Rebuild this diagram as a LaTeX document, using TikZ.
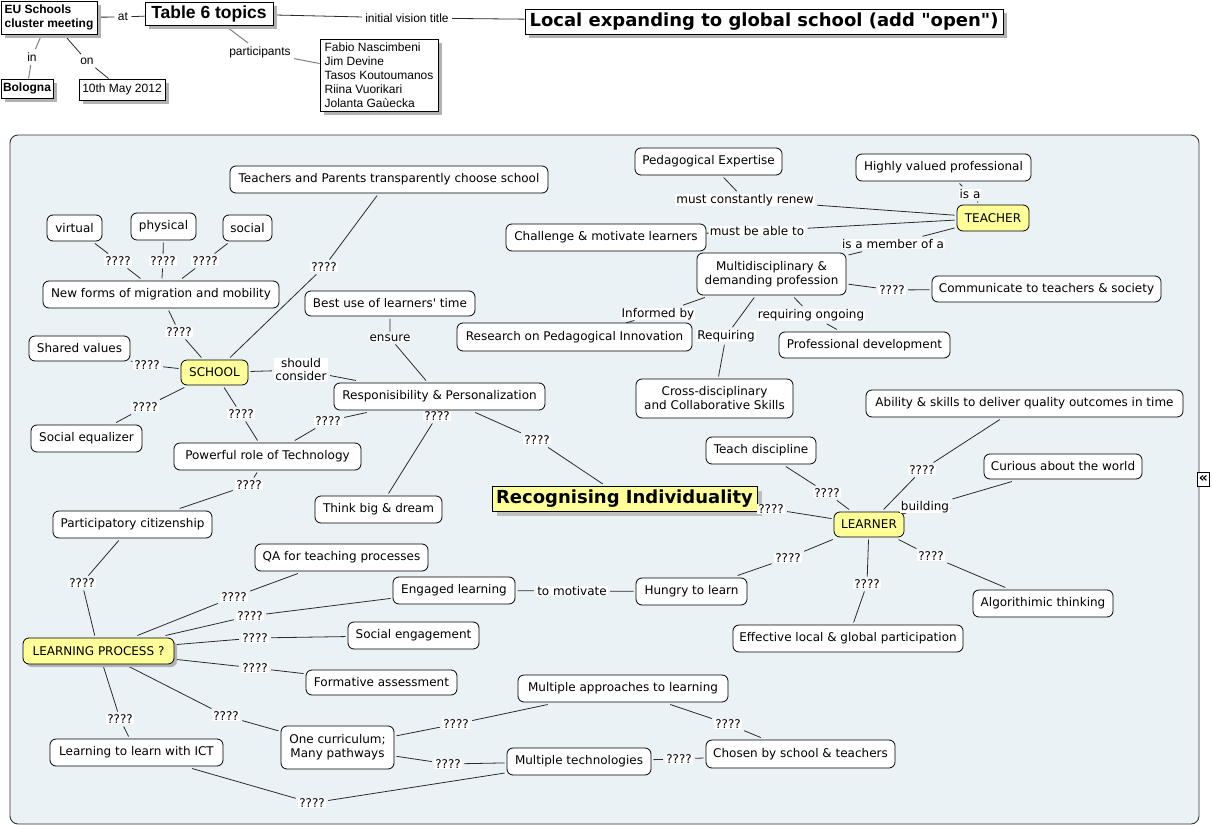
\documentclass[tikz,border=0pt]{standalone}
\usepackage{fontspec}
\setmainfont{DejaVu Sans}
\newfontfamily\arialf{Liberation Sans}
\usetikzlibrary{shadows}
\definecolor{panelbg}{HTML}{EBF2F5}
\definecolor{ylw}{HTML}{FFFF99}
\definecolor{lnc}{HTML}{2A2A2A}
\pgfdeclarelayer{panel}\pgfdeclarelayer{edges}
\pgfsetlayers{panel,edges,main}
\tikzset{
 cbox/.style={draw=black, line width=0.8pt, fill=white, rounded corners=6pt, inner sep=2pt, outer sep=2.5pt, font=\fontsize{12}{14}\selectfont, align=center},
 ybox/.style={cbox, fill=ylw},
 lab/.style={fill=white, inner xsep=1pt, inner ysep=0.5pt, outer sep=2.5pt, font=\fontsize{12}{13}\selectfont, align=center},
 conn/.style={draw=lnc, line width=0.8pt},
 gconn/.style={draw=black!50, line width=1pt},
 hbox/.style={draw=black, line width=0.9pt, fill=white, inner sep=3pt, general shadow={fill=black!30, shadow xshift=4pt, shadow yshift=-4pt}},
 hlab/.style={fill=white, inner sep=1pt, outer sep=2.5pt, font=\arialf\fontsize{12}{14}\selectfont},
}
\begin{document}
\begin{tikzpicture}[x=1pt,y=-1pt]
\useasboundingbox (0,0) rectangle (1212,826);
\begin{pgfonlayer}{panel}
\draw[fill=panelbg, draw=black!80, line width=0.9pt, rounded corners=8pt] (10,135) rectangle (1199,824);
\end{pgfonlayer}

% ---------- header ----------
\node[hbox, align=left, minimum width=96, minimum height=33, font=\arialf\bfseries\fontsize{12}{14}\selectfont] (eu) at (49,17.5) {EU Schools\\cluster meeting};
\node[hbox, minimum width=128, minimum height=23, inner sep=2pt, font=\arialf\bfseries\fontsize{17.5}{19}\selectfont] (tab) at (209,13.5) {Table 6 topics};
\node[hbox, minimum width=478, minimum height=25, inner sep=2pt, font=\bfseries\fontsize{18}{20}\selectfont] (loc) at (764,21.5) {Local expanding to global school (add \textquotedbl open\textquotedbl)};
\node[hbox, align=left, minimum width=118, minimum height=72, inner sep=2pt, font=\arialf\fontsize{12}{14}\selectfont] (names) at (379,75) {Fabio Nascimbeni\\Jim Devine\\Tasos Koutoumanos\\Riina Vuorikari\\Jolanta Gaùecka};
\node[hbox, minimum width=52, minimum height=19, inner sep=1pt, font=\arialf\bfseries\fontsize{12}{14}\selectfont] (bol) at (27,88.5) {Bologna};
\node[hbox, minimum width=86, minimum height=21, inner sep=1pt, font=\arialf\fontsize{12}{14}\selectfont] (may) at (122,89.5) {10th May 2012};

\node[hlab] (lat) at (123,17) {at};
\node[hlab] (livt) at (407,18) {initial vision title};
\node[hlab] (lpart) at (260,52) {participants};
\node[hlab] (lin) at (32,57) {in};
\node[hlab] (lon) at (87,61) {on};

% ---------- panel nodes ----------
\node[cbox, minimum width=318, minimum height=27] (tp) at (389,179.5) {Teachers and Parents transparently choose school};
\node[cbox, minimum width=55, minimum height=26] (virt) at (74.5,228) {virtual};
\node[cbox, minimum width=65, minimum height=27] (phys) at (163.5,226.5) {physical};
\node[cbox, minimum width=49, minimum height=26] (soc) at (247.5,228) {social};
\node[cbox, minimum width=236, minimum height=27] (nf) at (161,294.5) {New forms of migration and mobility};
\node[cbox, minimum width=170, minimum height=25] (bu) at (390,303.5) {Best use of learners\textquotesingle\ time};
\node[cbox, minimum width=101, minimum height=25] (sv) at (79.5,348.5) {Shared values};
\node[ybox, minimum width=67, minimum height=25] (school) at (214.5,372.5) {SCHOOL};
\node[cbox, minimum width=211, minimum height=27] (resp) at (439.5,396.5) {Responisibility \& Personalization};
\node[cbox, minimum width=235, minimum height=28] (rpi) at (574.5,337) {Research on Pedagogical Innovation};
\node[cbox, minimum width=111, minimum height=27] (se) at (86.5,438.5) {Social equalizer};
\node[cbox, minimum width=187, minimum height=27] (prt) at (267.5,456.5) {Powerful role of Technology};
\node[cbox, minimum width=127, minimum height=27] (tbd) at (378.5,509.5) {Think big \& dream};
\node[cbox, minimum width=159, minimum height=27] (pc) at (132.5,524.5) {Participatory citizenship};
\node[draw=black, fill=ylw, line width=0.9pt, minimum width=265, minimum height=25, inner sep=3pt, general shadow={fill=black!25, shadow xshift=5pt, shadow yshift=-5pt}, outer sep=2pt, font=\bfseries\fontsize{18}{20}\selectfont] (rec) at (624.5,498.5) {Recognising Individuality};
\node[cbox, minimum width=147, minimum height=27] (pe) at (708.5,161.5) {Pedagogical Expertise};
\node[cbox, minimum width=175, minimum height=27] (hvp) at (943.5,167.5) {Highly valued professional};
\node[ybox, minimum width=72, minimum height=26] (teacher) at (993,218) {TEACHER};
\node[cbox, minimum width=200, minimum height=27] (cml) at (606,237.5) {Challenge \& motivate learners};
\node[cbox, minimum width=149, minimum height=42] (mdp) at (771.5,274) {Multidisciplinary \&\\demanding profession};
\node[cbox, minimum width=229, minimum height=26] (cts) at (1046.5,289) {Communicate to teachers \& society};
\node[cbox, minimum width=171, minimum height=26] (pd) at (864.5,345) {Professional development};
\node[cbox, minimum width=157, minimum height=39] (cds) at (714.5,398.5) {Cross-disciplinary\\and Collaborative Skills};
\node[cbox, minimum width=317, minimum height=27] (ask) at (1024.5,403.5) {Ability \& skills to deliver quality outcomes in time};
\node[cbox, minimum width=110, minimum height=27] (td) at (761,450.5) {Teach discipline};
\node[cbox, minimum width=158, minimum height=25] (caw) at (1063,466.5) {Curious about the world};
\node[ybox, minimum width=70, minimum height=25] (learner) at (869,524.5) {LEARNER};
\node[cbox, minimum width=111, minimum height=27] (htl) at (691.5,591.5) {Hungry to learn};
\node[cbox, minimum width=122, minimum height=27] (el) at (454,590.5) {Engaged learning};
\node[cbox, minimum width=140, minimum height=27] (alg) at (1043,603.5) {Algorithimic thinking};
\node[cbox, minimum width=230, minimum height=27] (elg) at (848,638.5) {Effective local \& global participation};
\node[cbox, minimum width=173, minimum height=27] (qa) at (341.5,557.5) {QA for teaching processes};
\node[cbox, minimum width=131, minimum height=27] (sen) at (413.5,635.5) {Social engagement};
\node[ybox, minimum width=151, minimum height=26, general shadow={fill=black!30, shadow xshift=3pt, shadow yshift=-3pt, rounded corners=6pt}] (lp) at (98.5,651) {LEARNING PROCESS ?};
\node[cbox, minimum width=151, minimum height=25] (fa) at (381.5,682.5) {Formative assessment};
\node[cbox, minimum width=210, minimum height=27] (mal) at (623,688.5) {Multiple approaches to learning};
\node[cbox, minimum width=173, minimum height=27] (llict) at (136.5,752.5) {Learning to learn with ICT};
\node[cbox, minimum width=113, minimum height=43] (oc) at (337.5,747.5) {One curriculum;\\Many pathways};
\node[cbox, minimum width=144, minimum height=27] (mt) at (579,761.5) {Multiple technologies};
\node[cbox, minimum width=189, minimum height=28] (cst) at (800.5,754) {Chosen by school \& teachers};
\node[draw=black, fill=white, line width=0.8pt, inner sep=0pt, minimum width=12, minimum height=14, font=\bfseries\fontsize{14}{14}\selectfont] (icon) at (1203.5,479) {«};

% ---------- labels ----------
\node[lab] (q1) at (118,261) {????};
\node[lab] (q2) at (163,261) {????};
\node[lab] (q3) at (205,261) {????};
\node[lab] (q4) at (179,332) {????};
\node[lab] (q5) at (324,267) {????};
\node[lab] (q6) at (147,365) {????};
\node[lab] (lsc) at (301,370) {should\\consider};
\node[lab] (lens) at (390,338) {ensure};
\node[lab] (q7) at (145,407) {????};
\node[lab] (q8) at (241,414) {????};
\node[lab] (q9) at (328,421) {????};
\node[lab] (q10) at (437,416) {????};
\node[lab] (q11) at (537,440) {????};
\node[lab] (q12) at (249,485) {????};
\node[lab] (q13) at (82,583) {????};
\node[lab] (lmcr) at (745,200) {must constantly renew};
\node[lab] (lisa) at (970,194) {is a};
\node[lab] (lmba) at (757,231) {must be able to};
\node[lab] (limo) at (893,244) {is a member of a};
\node[lab] (q14) at (892,290) {????};
\node[lab] (linf) at (658,314) {Informed by};
\node[lab] (lreq) at (726,336) {Requiring};
\node[lab] (lro) at (811,315) {requiring ongoing};
\node[lab] (q15) at (922,470) {????};
\node[lab] (lbld) at (925,507) {building};
\node[lab] (q16) at (827,493) {????};
\node[lab] (q17) at (771,509) {????};
\node[lab] (q18) at (788,558) {????};
\node[lab] (q19) at (867,584) {????};
\node[lab] (q20) at (931,556) {????};
\node[lab] (ltm) at (572,591) {to motivate};
\node[lab] (q21) at (234,597) {????};
\node[lab] (q22) at (250,616) {????};
\node[lab] (q23) at (255,638) {????};
\node[lab] (q24) at (255,668) {????};
\node[lab] (q25) at (120,719) {????};
\node[lab] (q26) at (226,716) {????};
\node[lab] (q27) at (456,724) {????};
\node[lab] (q28) at (448,764) {????};
\node[lab] (q29) at (312,803) {????};
\node[lab] (q30) at (728,724) {????};
\node[lab] (q31) at (679,759) {????};

% ---------- connectors ----------
\begin{pgfonlayer}{edges}
\draw[conn] (eu) -- (lat) -- (tab);
\draw[conn] (tab) -- (livt) -- (loc);
\draw[gconn] (tab) -- (lpart) -- (names);
\draw[gconn] (eu) -- (lin) -- (bol);
\draw[conn] (eu) -- (lon) -- (may);

\draw[conn] (virt) -- (q1) -- (nf);
\draw[conn] (phys) -- (q2) -- (nf);
\draw[conn] (soc) -- (q3) -- (nf);
\draw[conn] (nf) -- (q4) -- (school);
\draw[conn] (tp) -- (q5) -- (school);
\draw[conn] (sv) -- (q6) -- (school);
\draw[conn] (school) -- (lsc) -- (resp);
\draw[conn] (bu) -- (lens) -- (resp);
\draw[conn] (school) -- (q7) -- (se);
\draw[conn] (school) -- (q8) -- (prt);
\draw[conn] (resp) -- (q9) -- (prt);
\draw[conn] (resp) -- (q10) -- (tbd);
\draw[conn] (resp) -- (q11) -- (rec);
\draw[conn] (prt) -- (q12) -- (pc);
\draw[conn] (pc) -- (q13) -- (lp);
\draw[conn] (pe) -- (lmcr) -- (teacher);
\draw[conn] (hvp) -- (lisa) -- (teacher);
\draw[conn] (cml) -- (lmba) -- (teacher);
\draw[conn] (teacher) -- (limo) -- (mdp);
\draw[conn] (mdp) -- (q14) -- (cts);
\draw[conn] (mdp) -- (linf) -- (rpi);
\draw[conn] (mdp) -- (lreq) -- (cds);
\draw[conn] (mdp) -- (lro) -- (pd);
\draw[conn] (ask) -- (q15) -- (learner);
\draw[conn] (caw) -- (lbld) -- (learner);
\draw[conn] (td) -- (q16) -- (learner);
\draw[conn] (q17) -- (learner);
\draw[conn] (learner) -- (q18) -- (htl);
\draw[conn] (learner) -- (q19) -- (elg);
\draw[conn] (learner) -- (q20) -- (alg);
\draw[conn] (el) -- (ltm) -- (htl);
\draw[conn] (lp) -- (q21) -- (qa);
\draw[conn] (lp) -- (q22) -- (el);
\draw[conn] (lp) -- (q23) -- (sen);
\draw[conn] (lp) -- (q24) -- (fa);
\draw[conn] (lp) -- (q25) -- (llict);
\draw[conn] (lp) -- (q26) -- (oc);
\draw[conn] (oc) -- (q27) -- (mal);
\draw[conn] (oc) -- (q28) -- (mt);
\draw[conn] (llict) -- (q29) -- (mt);
\draw[conn] (mal) -- (q30) -- (cst);
\draw[conn] (mt) -- (q31) -- (cst);
\end{pgfonlayer}
\end{tikzpicture}
\end{document}
